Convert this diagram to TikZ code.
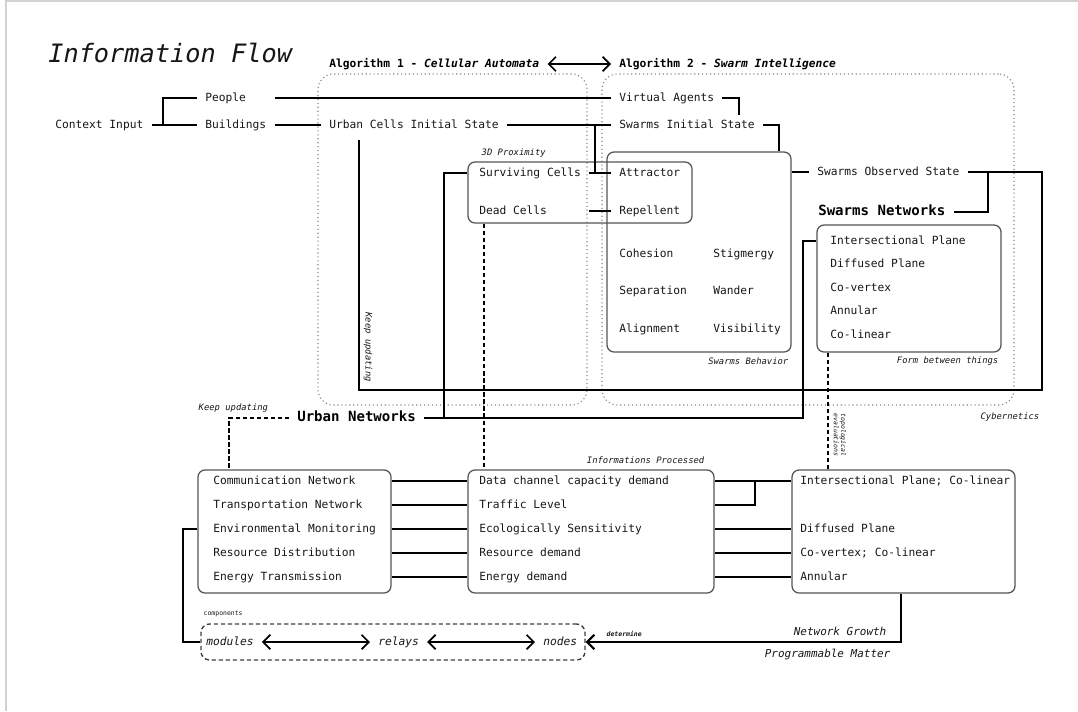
\documentclass[tikz,border=0pt]{standalone}
\usepackage{fontspec}
\setmonofont{DejaVu Sans Mono}
\usetikzlibrary{arrows.meta,positioning,fit}
\definecolor{ink}{HTML}{161616}
\definecolor{frame}{HTML}{555555}
\definecolor{dots}{HTML}{858585}
\tikzset{
  lbl/.style={anchor=west, xshift=-0.2cm, inner xsep=0.2cm, inner ysep=2pt,
              text height=6pt, text depth=1.5pt,
              font=\ttfamily\fontsize{8}{9}\selectfont, text=ink},
  head/.style={lbl, font=\ttfamily\bfseries\fontsize{8}{9}\selectfont, text=black},
  bighead/.style={lbl, font=\ttfamily\bfseries\fontsize{10}{12}\selectfont, text=black},
  slant/.style={lbl, font=\ttfamily\itshape\fontsize{8}{9}\selectfont},
  note/.style={inner sep=1pt, font=\ttfamily\itshape\fontsize{6.3}{7}\selectfont, text=ink},
  tiny/.style={inner sep=1pt, font=\ttfamily\fontsize{4.6}{5.2}\selectfont, text=ink},
  panel/.style={draw=frame, line width=0.9pt, rounded corners=5pt, inner sep=0pt},
  zone/.style={draw=dots, dotted, line width=0.8pt, rounded corners=11pt, inner sep=0pt},
  link/.style={line width=1.5pt, draw=black},
  thinlink/.style={line width=1.1pt, draw=black},
  dashlink/.style={line width=1pt, dash pattern=on 3pt off 2pt, draw=black},
  twoway/.style={<->, >={Straight Barb[length=1.8mm, width=3.6mm]}, line width=1.2pt}
}

\begin{document}
\begin{tikzpicture}[x=0.025cm, y=-0.025cm]
  \useasboundingbox (0,0) rectangle (1078,711);
  \draw[gray!35, line width=1pt] (6,711) -- (6,1) -- (1078,1);

  \node[lbl, font=\ttfamily\itshape\fontsize{18}{20}\selectfont, text height=13pt, text depth=3pt]
    (title) at (48,55) {Information Flow};

  % context input
  \node[lbl] (ctx) at (55,125) {Context Input};
  \node[lbl] (people) at (205,98) {People};
  \node[lbl] (bldg) at (205,125) {Buildings};
  \coordinate (split) at (163,125);

  % the two algorithms
  \node[head] (alg1) at (329,64) {Algorithm 1 - \textit{Cellular Automata}};
  \node[head] (alg2) at (619,64) {Algorithm 2 - \textit{Swarm Intelligence}};
  \node[zone, fit={(318,74) (587,405)}] (ca) {};
  \node[zone, fit={(602,74) (1014,405)}] (si) {};

  \node[lbl] (ucis) at (329,125) {Urban Cells Initial State};
  \node[panel, fit={(468,162) (692,223)}] (prox) {};
  \node[note, anchor=west] (proxlbl) at (480,153) {3D Proximity};
  \node[lbl] (surv) at (479,173) {Surviving Cells};
  \node[lbl] (dead) at (479,211) {Dead Cells};

  \node[lbl] (va) at (619,98) {Virtual Agents};
  \node[lbl] (sis) at (619,125) {Swarms Initial State};
  \node[panel, fit={(607,152) (791,352)}] (beh) {};
  \node[lbl] (attr) at (619,173) {Attractor};
  \node[lbl] (rep) at (619,211) {Repellent};
  \foreach \name/\x/\y in {Cohesion/619/254, Stigmergy/713/254, Separation/619/291,
                          Wander/713/291, Alignment/619/329, Visibility/713/329}
    \node[lbl] (b-\name) at (\x,\y) {\name};
  \node[note, anchor=east] (behlbl) at (790,361) {Swarms Behavior};

  \node[lbl] (sos) at (817,172) {Swarms Observed State};
  \node[bighead] (swn) at (818,212) {Swarms Networks};
  \node[panel, fit={(817,225) (1001,352)}] (form) {};
  \foreach \t/\y [count=\i] in {Intersectional Plane/241, Diffused Plane/264, Co-vertex/288,
                               Annular/311, Co-linear/335}
    \node[lbl] (f\i) at (830,\y) {\t};
  \node[note, anchor=east] (formlbl) at (1000,361) {Form between things};
  \node[note, anchor=east] (cyb) at (1041,417) {Cybernetics};

  % urban networks
  \node[bighead] (urbn) at (297,418) {Urban Networks};
  \node[note, anchor=west] (kup1) at (197,408) {Keep updating};
  \node[note, rotate=-90] (kup2) at (368,347) {Keep updating};
  \node[tiny, font=\ttfamily\itshape\fontsize{4.6}{5.2}\selectfont, rotate=-90, align=center]
    (topo) at (840,435) {topological\\evaluations};

  % bottom row
  \node[panel, fit={(198,470) (391,593)}] (nets) {};
  \node[panel, fit={(468,470) (714,593)}] (proc) {};
  \node[panel, fit={(792,470) (1015,593)}] (forms) {};
  \foreach \t [count=\i] in {Communication Network, Transportation Network,
                            Environmental Monitoring, Resource Distribution, Energy Transmission}
    \node[lbl] (n\i) at (213,457+24*\i) {\t};
  \foreach \t [count=\i] in {Data channel capacity demand, Traffic Level,
                            Ecologically Sensitivity, Resource demand, Energy demand}
    \node[lbl] (p\i) at (479,457+24*\i) {\t};
  \node[note, anchor=east] (proclbl) at (706,460) {Informations Processed};
  \node[lbl] (g1) at (800,481) {Intersectional Plane; Co-linear};
  \node[lbl] (g3) at (800,529) {Diffused Plane};
  \node[lbl] (g4) at (800,553) {Co-vertex; Co-linear};
  \node[lbl] (g5) at (800,577) {Annular};

  % components
  \node[panel, draw=black!75, line width=1pt, dash pattern=on 3pt off 2pt, rounded corners=6pt,
        fit={(201,624) (585,660)}] (comp) {};
  \node[tiny, anchor=west] (complbl) at (202,614) {components};
  \node[slant] (mods) at (206,642) {modules};
  \node[slant] (rel) at (378,642) {relays};
  \node[slant] (nds) at (543,642) {nodes};
  \node[note, anchor=east, font=\ttfamily\itshape\fontsize{7.8}{9}\selectfont] (ngrow) at (888,631) {Network Growth};
  \node[note, anchor=east, font=\ttfamily\itshape\fontsize{7.8}{9}\selectfont] (pmat) at (892,654) {Programmable Matter};
  \node[tiny, font=\ttfamily\bfseries\itshape\fontsize{4.6}{5.2}\selectfont, anchor=west] (det) at (605,634) {determine};

  % connectors
  \draw[twoway] (alg1.east) -- (alg2.west);
  \draw[link] (ctx.east) -- (bldg.west);
  \draw[link] (split) |- (people.west);
  \draw[link] (people.east -| bldg.east) -- (va.west);
  \draw[link] (bldg.east) -- (ucis.west);
  \draw[link] (ucis.east) -- (sis.west);
  \coordinate (drop) at (595,125);
  \draw[link] (drop) -- (drop |- attr.west);
  \draw[link] (surv.east) -- (attr.west);
  \draw[link] (dead.east -| surv.east) -- (rep.west);
  \coordinate (hook) at (739,115);
  \draw[link] (va.east) -| (hook);
  \coordinate (feed) at (779,0);
  \draw[link] (sis.east) -| (feed |- beh.north);
  \draw[link] (beh.east |- sos.west) -- (sos.west);
  \coordinate (loopR) at (1042,390);
  \coordinate (loopL) at (359,140);
  \draw[link] (sos.east) -| (loopR) -| (loopL);
  \coordinate (fork) at (988,172);
  \draw[link] (fork) |- (swn.east);
  \coordinate (bend) at (803,418);
  \draw[link] (form.west |- f1.west) -| (bend) -- (urbn.east);
  \coordinate (tap) at (444,418);
  \draw[link] (tap) |- (prox.west |- surv.west);

  \coordinate (dA) at (229,0);
  \coordinate (dB) at (484,0);
  \coordinate (dC) at (828,0);
  \draw[dashlink] (urbn.west) -| (dA |- nets.north);
  \draw[dashlink] (dB |- prox.south) -- (dB |- proc.north);
  \draw[dashlink] (dC |- form.south) -- (dC |- forms.north);

  \foreach \i in {1,...,5}
    \draw[link] (nets.east |- n\i.west) -- (proc.west |- n\i.west);
  \foreach \i in {1,3,4,5}
    \draw[thinlink] (proc.east |- p\i.west) -- (forms.west |- p\i.west);
  \coordinate (merge) at (755,481);
  \draw[thinlink] (proc.east |- p2.west) -| (merge);

  \coordinate (tie) at (183,642);
  \draw[link] (nets.west |- n3.west) -| (tie) -- (comp.west |- tie);
  \draw[twoway] (mods.east) -- (rel.west);
  \draw[twoway] (rel.east) -- (nds.west);
  \coordinate (grow) at (901,0);
  \draw[link, -{Straight Barb[length=1.8mm, width=3.6mm]}] (grow |- forms.south) |- (comp.east);
\end{tikzpicture}
\end{document}
